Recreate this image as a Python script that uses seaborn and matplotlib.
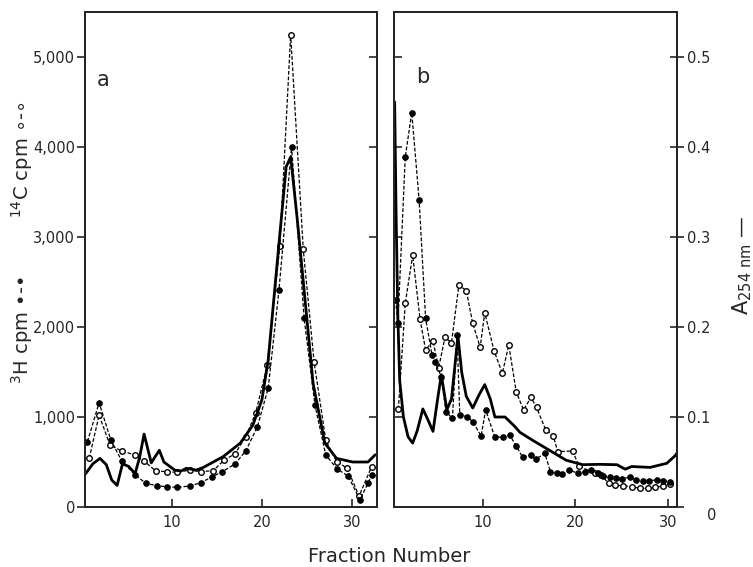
import matplotlib
matplotlib.use("Agg")
import matplotlib.pyplot as plt
from matplotlib.transforms import ScaledTranslation
import seaborn as sns
import pandas as pd

# ---------------- data ----------------
# Panel a
a_h3_x = [0.6, 1.9, 3.2, 4.4, 5.9, 7.1, 8.3, 9.4, 10.6, 12.0, 13.2, 14.5, 15.6, 17.0,
          18.2, 19.5, 20.7, 21.9, 23.3, 24.7, 25.9, 27.1, 28.4, 29.6, 30.9, 31.8, 32.2]
a_h3_y = [726, 1159, 744, 515, 356, 263, 237, 226, 219, 233, 270, 337, 393, 478,
          622, 892, 1319, 2411, 4003, 2096, 1133, 578, 419, 344, 80, 263, 356]

a_c14_x = [0.8, 1.9, 3.1, 4.4, 5.9, 6.9, 8.2, 9.4, 10.6, 12.0, 13.2, 14.6, 15.8, 17.0,
           18.2, 19.3, 20.6, 22.0, 23.2, 24.6, 25.8, 27.1, 28.3, 29.5, 30.8, 32.2]
a_c14_y = [541, 1022, 689, 622, 578, 511, 400, 393, 385, 411, 393, 404, 522, 589,
           781, 1041, 1578, 2900, 5250, 2863, 1615, 744, 504, 430, 120, 448]

a_abs_x = [0.4, 1.2, 2.0, 2.7, 3.3, 3.9, 4.5, 5.2, 5.9, 6.4, 6.9, 7.3, 7.7, 8.2, 8.6,
           9.1, 10.3, 11.0, 11.6, 12.7, 13.5, 15.7, 17.6, 19.0, 20.0, 20.7, 21.8,
           22.7, 23.2, 23.9, 24.8, 25.7, 27.0, 28.3, 30.1, 31.8, 32.6]
a_abs_y = [0.037, 0.048, 0.054, 0.047, 0.030, 0.024, 0.048, 0.045, 0.037, 0.055, 0.081,
           0.065, 0.049, 0.057, 0.063, 0.050, 0.041, 0.040, 0.043, 0.041, 0.044, 0.056,
           0.071, 0.091, 0.119, 0.163, 0.282, 0.378, 0.389, 0.323, 0.230, 0.137, 0.071,
           0.054, 0.050, 0.050, 0.058]

# Panel b
b_h3_x = [0.55, 0.8, 1.6, 2.3, 3.1, 3.8, 4.5, 4.8, 5.5, 6.0, 6.7, 7.2, 7.5, 8.3, 8.9,
          9.8, 10.3, 11.3, 12.2, 12.9, 13.6, 14.3, 15.2, 15.7, 16.7, 17.3, 18.0, 18.6,
          19.3, 20.3, 21.0, 21.7, 22.4, 23.0, 23.7, 24.4, 25.0, 25.9, 26.6, 27.3, 28.0,
          28.8, 29.5, 30.2]
b_h3_y = [2300, 2040, 3892, 4381, 3411, 2096, 1689, 1615, 1448, 1059, 985, 1911, 1022,
          1004, 948, 789, 1078, 774, 781, 800, 678, 552, 578, 530, 596, 393, 374, 367,
          411, 374, 393, 411, 374, 344, 330, 318, 307, 337, 300, 293, 293, 300, 293, 281]

b_c14_x = [0.85, 1.6, 2.4, 3.2, 3.8, 4.6, 5.2, 5.9, 6.6, 7.4, 8.2, 8.9, 9.7, 10.2, 11.2,
           12.1, 12.8, 13.6, 14.4, 15.2, 15.8, 16.8, 17.6, 18.1, 19.7, 20.4, 22.1, 22.8,
           23.6, 24.3, 25.2, 26.1, 27.0, 27.9, 28.6, 29.5, 30.2]
b_c14_y = [1085, 2263, 2800, 2085, 1744, 1848, 1541, 1885, 1826, 2467, 2404, 2041, 1774,
           2159, 1737, 1485, 1800, 1281, 1078, 1219, 1107, 855, 792, 615, 622, 456, 374,
           356, 263, 244, 233, 226, 207, 207, 219, 233, 252]

b_abs_x = [0.45, 0.6, 0.8, 1.0, 1.4, 1.9, 2.4, 2.9, 3.5, 4.0, 4.6, 5.1, 5.5, 6.1, 6.6,
           7.3, 7.7, 8.2, 8.9, 9.6, 10.2, 10.8, 11.3, 12.4, 13.5, 14.0, 15.4, 17.2, 19.0,
           20.8, 22.6, 24.5, 25.4, 26.1, 28.1, 29.9, 30.8, 31.0]
b_abs_y = [0.45, 0.33, 0.21, 0.14, 0.10, 0.078, 0.071, 0.085, 0.109, 0.098, 0.084, 0.12,
           0.147, 0.108, 0.12, 0.19, 0.15, 0.123, 0.11, 0.125, 0.136, 0.12, 0.10, 0.10,
           0.089, 0.083, 0.074, 0.063, 0.052, 0.047, 0.0474, 0.047, 0.042, 0.045, 0.044,
           0.0486, 0.057, 0.06]

count_ticks = [0, 1000, 2000, 3000, 4000, 5000]
count_labels = ["0", "1,000", "2,000", "3,000", "4,000", "5,000"]
abs_ticks = [0, 0.1, 0.2, 0.3, 0.4, 0.5]
abs_labels = ["0", "0.1", "0.2", "0.3", "0.4", "0.5"]
x_ticks = [10, 20, 30]
x_labels = ["10", "20", "30"]

# ---------------- figure ----------------
sns.set_style("ticks")
plt.rcParams['font.family'] = ['DejaVu Sans']
plt.rcParams['axes.linewidth'] = 1.4

W, H = 753, 567
fig = plt.figure(figsize=(W / 100, H / 100), dpi=100)
axL = fig.add_axes([85 / W, 60 / H, 292 / W, 495 / H])
axR = fig.add_axes([394 / W, 60 / H, 283 / W, 495 / H])


def draw(ax, hx, hy, cx, cy, ax_, ay, xlim):
    tw = ax.twinx()
    sns.lineplot(x=ax_, y=ay, ax=tw, color="black", linewidth=2.0, sort=False,
                 estimator=None)
    sns.lineplot(x=cx, y=cy, ax=ax, color="black", linewidth=0.9, sort=False,
                 estimator=None, linestyle=(0, (3, 1.5)), marker="o", markersize=4,
                 markerfacecolor="white", markeredgecolor="black", markeredgewidth=1.0,
                 zorder=3)
    sns.lineplot(x=hx, y=hy, ax=ax, color="black", linewidth=0.9, sort=False,
                 estimator=None, linestyle=(0, (3, 1.5)), marker="o", markersize=4,
                 markerfacecolor="black", markeredgecolor="black", zorder=3)
    ax.set_xlim(*xlim)
    ax.set_ylim(0, 5500)
    tw.set_ylim(0, 0.55)
    ax.set_xlabel("")
    ax.set_ylabel("")
    tw.set_ylabel("")
    ax.set_xticks(x_ticks)
    ax.set_xticklabels(x_labels)
    ax.tick_params(axis="x", direction="in", length=6, width=1.2, labelsize=10.5, pad=6)
    for s in list(ax.spines.values()) + list(tw.spines.values()):
        s.set_linewidth(1.4)
    return tw


twL = draw(axL, a_h3_x, a_h3_y, a_c14_x, a_c14_y, a_abs_x, a_abs_y, (0.33, 32.8))
twR = draw(axR, b_h3_x, b_h3_y, b_c14_x, b_c14_y, b_abs_x, b_abs_y, (0.38, 31.0))

axL.set_yticks(count_ticks)
axL.set_yticklabels(count_labels)
axL.tick_params(axis="y", direction="out", length=6, width=1.2, labelsize=10.5, pad=1)
twL.set_yticks(abs_ticks[1:])
twL.tick_params(axis="y", direction="in", length=6, width=1.2, labelright=False)

axR.set_yticks(count_ticks[1:])
axR.tick_params(axis="y", direction="in", length=6, width=1.2, labelleft=False)
twR.set_yticks(abs_ticks)
twR.set_yticklabels(abs_labels)
twR.tick_params(axis="y", direction="inout", length=10, width=1.2, labelsize=10.5, pad=2)
# the "0" of the absorbance axis sits further right and lower in the reference
zero_lbl = twR.get_yticklabels()[0]
zero_lbl.set_transform(zero_lbl.get_transform()
                       + ScaledTranslation(0.20, -0.07, fig.dpi_scale_trans))

# texts
fig.text(103 / W, 1 - 80 / H, "a", ha="center", va="center", fontsize=15)
fig.text(423 / W, 1 - 77 / H, "b", ha="center", va="center", fontsize=15)
fig.text(22 / W, 1 - 160 / H, "$^{14}$C cpm \u2218\u2011\u2218", rotation=90, ha="center",
         va="center", fontsize=14)
fig.text(22 / W, 1 - 330 / H, "$^{3}$H cpm \u2022\u2011\u2022", rotation=90, ha="center",
         va="center", fontsize=14)
fig.text(742 / W, 1 - 265 / H, "A$_{254\\ \\mathrm{nm}}$ \u2014", rotation=90,
         ha="center", va="center", fontsize=15)
fig.text(389 / W, 1 - 557 / H, "Fraction Number", ha="center", va="center", fontsize=14)

fig.savefig("out.png", dpi=100)
